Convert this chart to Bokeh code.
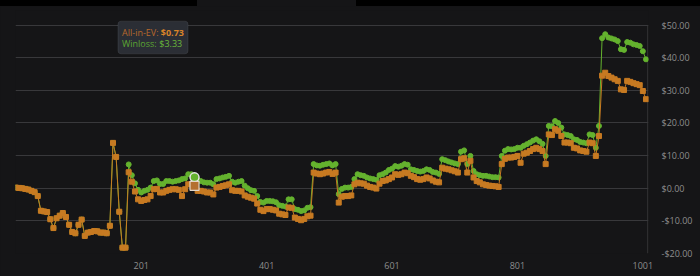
from bokeh.plotting import figure
from bokeh.models import Range1d, FixedTicker, BoxAnnotation, Div, Label
from bokeh.layouts import column, row
from bokeh.embed import file_html
from bokeh.resources import INLINE

# ---------------- data ----------------
# hands 1, 6, 11, ... ; before the first all-in both series coincide
shared_start = [0.2, 0.1, 0.0, -0.2, -0.4, -0.8, -1.2, -2.4, -6.9, -7.1,
                -7.3, -9.5, -12.2, -9.2, -8.4, -7.6, -8.8, -11.2, -13.4, -13.8,
                -11.2, -9.6, -14.6, -13.6, -13.4, -13.1, -13.2, -13.6, -13.6, -13.8,
                -11.5, 13.9, 9.6, -7.2, -18.2, -18.2]

winloss_rest = [7.3, 4.0, 1.5, -0.5, -1.3, -0.8, -0.5, 0.2, 2.2, 2.4,
                1.3, 1.3, 2.2, 2.2, 2.0, 2.2, 2.4, 2.8, 3.0, 4.3,
                4.3, 3.33, 2.4, 2.2, 1.8, 1.7, 1.7, 1.2, 2.8, 3.0,
                3.3, 3.5, 3.8, 2.0, 1.7, 2.0, 2.2, 0.8, 0.0, -0.6,
                -0.8, -2.4, -4.2, -4.4, -3.9, -3.9, -4.0, -4.3, -5.2, -5.4,
                -5.6, -3.4, -3.4, -6.4, -6.6, -7.0, -6.8, -6.0, -5.8, 7.4,
                7.0, 6.9, 7.2, 7.4, 7.6, 7.0, 7.4, -1.8, -0.2, 0.2,
                0.2, 0.4, 2.8, 4.3, 4.0, 3.8, 3.3, 3.0, 2.8, 2.6,
                4.0, 4.3, 4.8, 5.6, 6.0, 6.8, 6.6, 6.9, 7.4, 7.2,
                5.8, 5.6, 5.3, 5.1, 5.3, 5.8, 5.6, 5.0, 4.8, 4.4,
                8.9, 8.6, 8.2, 7.9, 7.6, 7.4, 11.2, 11.6, 7.4, 9.9,
                5.3, 4.3, 4.0, 3.8, 3.8, 3.6, 3.4, 3.4, 3.3, 9.9,
                11.5, 12.0, 11.9, 12.0, 12.4, 12.4, 13.0, 13.5, 14.0, 14.6,
                15.0, 14.4, 13.6, 9.9, 19.1, 19.0, 20.6, 20.0, 18.6, 16.5,
                16.3, 16.0, 15.0, 14.8, 14.2, 14.0, 13.8, 16.5, 16.3, 12.4,
                19.1, 46.0, 47.2, 46.2, 45.9, 45.6, 45.1, 42.6, 42.4, 44.8,
                44.6, 44.1, 43.9, 43.6, 42.0, 39.5]

ev_rest = [4.9, 2.0, -1.0, -3.4, -3.9, -3.6, -3.4, -2.4, -0.3, -0.2,
           -1.3, -1.3, -0.8, -0.5, -0.3, -0.3, -0.5, -2.4, -0.3, 1.2,
           1.2, 0.73, -0.8, -0.8, -1.0, -1.3, -1.3, -1.9, 0.2, 0.4,
           0.7, 0.9, 1.2, -0.6, -0.8, -0.8, -1.0, -2.2, -2.6, -2.9,
           -3.2, -4.7, -6.6, -7.0, -6.4, -6.4, -6.6, -6.8, -7.8, -8.0,
           -8.2, -5.9, -6.0, -9.0, -9.4, -9.8, -9.4, -8.6, -8.4, 4.8,
           4.5, 4.3, 4.5, 4.8, 5.0, 4.4, 4.8, -4.4, -2.6, -2.4,
           -2.4, -2.2, 1.2, 1.7, 1.5, 1.4, 0.8, 0.4, 0.2, -0.1,
           1.4, 2.2, 2.4, 2.8, 3.3, 4.3, 4.1, 4.3, 4.8, 4.6,
           3.8, 3.4, 2.8, 2.6, 2.8, 3.3, 3.0, 2.4, 2.0, 1.8,
           6.3, 6.0, 5.8, 5.5, 5.2, 4.8, 8.9, 9.2, 4.8, 8.4,
           3.3, 2.2, 1.8, 1.2, 1.0, 0.8, 0.7, 0.6, 0.4, 7.4,
           9.0, 9.4, 9.4, 9.6, 9.9, 7.8, 10.6, 10.9, 11.4, 12.0,
           12.4, 12.0, 11.4, 7.4, 16.5, 16.3, 18.1, 17.6, 16.0, 14.0,
           14.0, 13.8, 12.4, 12.2, 11.6, 11.4, 11.2, 14.0, 13.8, 9.9,
           16.0, 34.5, 35.4, 34.4, 33.9, 33.4, 32.9, 30.3, 30.1, 32.9,
           32.6, 32.2, 31.9, 31.6, 29.8, 27.3]

winloss = shared_start + winloss_rest
all_in_ev = shared_start + ev_rest
assert len(winloss) == len(all_in_ev), (len(winloss), len(all_in_ev))
hands = list(range(1, 1 + 5 * len(winloss), 5))

x_ticks = [201, 401, 601, 801, 1001]
y_ticks = [-20, -10, 0, 10, 20, 30, 40, 50]
y_tick_labels = ["-$20.00", "-$10.00", "$0.00", "$10.00", "$20.00",
                 "$30.00", "$40.00", "$50.00"]

hover_index = 57
tooltip_ev_label = "All-in-EV: "
tooltip_ev_value = "$0.73"
tooltip_wl_label = "Winloss: "
tooltip_wl_value = "$3.33"

# ---------------- style ----------------
BG = "#151517"
GRID = "#38383b"
TXT = "#8e8e8e"
GREEN = "#64b22e"
ORANGE = "#c77a22"
FONT = "Open Sans"

W, H = 700, 270
MB_L, MB_R, MB_T, MB_B = 15, 52, 4, 23
X0, X1 = 0.5, 1010.0
frame_h = H - MB_T - MB_B
Y0 = -20.0
Y1 = Y0 + frame_h / 3.263
TOP_BAR = 6  # height of the strip above the figure

p = figure(width=W, height=H, output_backend="svg", toolbar_location=None,
           x_range=Range1d(X0, X1), y_range=Range1d(Y0, Y1),
           y_axis_location="right",
           min_border_left=MB_L, min_border_right=MB_R,
           min_border_top=MB_T, min_border_bottom=MB_B,
           background_fill_color=BG, border_fill_color=BG,
           outline_line_color=None)

frame_w = W - MB_L - MB_R


def px_x(px):
    return X0 + (px - MB_L) * (X1 - X0) / frame_w


def px_y(py):  # py in page coordinates
    fy = py - TOP_BAR - MB_T
    return Y1 - fy * (Y1 - Y0) / frame_h


p.xaxis.ticker = FixedTicker(ticks=x_ticks)
p.yaxis.ticker = FixedTicker(ticks=y_ticks)
p.yaxis.major_label_overrides = dict(zip(y_ticks, y_tick_labels))
for ax in (p.xaxis[0], p.yaxis[0]):
    ax.axis_line_color = None
    ax.major_tick_line_color = None
    ax.minor_tick_line_color = None
    ax.major_label_text_color = TXT
    ax.major_label_text_font = FONT
    ax.major_label_text_font_size = "9px"
p.xaxis.major_label_standoff = 2
p.yaxis.major_label_standoff = 7

p.xgrid.visible = False
p.ygrid.ticker = FixedTicker(ticks=y_ticks)
p.ygrid.grid_line_color = GRID
p.ygrid.grid_line_width = 1

# right edge line of the value scale
xr = px_x(647.3)
p.segment(x0=[xr], y0=[y_ticks[0]], x1=[xr], y1=[y_ticks[-1]],
          line_color=GRID, line_width=1)

# series
p.line(hands, winloss, line_color=GREEN, line_width=1)
p.scatter(hands, winloss, marker="circle", size=5,
          fill_color=GREEN, line_color=GREEN)
p.line(hands, all_in_ev, line_color=ORANGE, line_width=1)
p.scatter(hands, all_in_ev, marker="square", size=5,
          fill_color=ORANGE, line_color=ORANGE)

# hover markers
hx = hands[hover_index]
p.scatter([hx], [winloss[hover_index]], marker="circle", size=9,
          fill_color=GREEN, line_color="#e6e6e6", line_width=1.5)
p.scatter([hx], [all_in_ev[hover_index]], marker="square", size=9,
          fill_color="#b46f30", line_color="#e2d6c8", line_width=1.2)

# tooltip
box = BoxAnnotation(left=px_x(117.5), right=px_x(187.5),
                    top=px_y(20.7), bottom=px_y(53.3),
                    fill_color="#2b2e35", fill_alpha=1.0,
                    line_color="#595c63", line_width=1, border_radius=3)
p.add_layout(box)

labels = [
    (121.5, 31.8, tooltip_ev_label, "#b8692c", "normal"),
    (160.3, 31.8, tooltip_ev_value, "#d98429", "bold"),
    (121.5, 43.4, tooltip_wl_label, "#5ba532", "normal"),
    (158.8, 43.4, tooltip_wl_value, "#6ab83a", "normal"),
]
for lx, ly, t, c, fs in labels:
    p.add_layout(Label(x=px_x(lx), y=px_y(ly), text=t, text_color=c,
                       text_font=FONT, text_font_size="9px",
                       text_font_style=fs, text_align="left",
                       text_baseline="middle"))

# dark strip above the chart (two black pieces with a gap)
bar1 = Div(text="", width=197, height=TOP_BAR, margin=0,
           styles={"background-color": "#000000"})
gap = Div(text="", width=159, height=TOP_BAR, margin=0,
          styles={"background-color": BG})
bar2 = Div(text="", width=344, height=TOP_BAR, margin=0,
           styles={"background-color": "#000000"})
top = row(bar1, gap, bar2, spacing=0, margin=0)

layout = column(top, p, spacing=0, margin=0,
                styles={"background-color": BG})

open("out.html", "w").write(file_html(layout, INLINE))
